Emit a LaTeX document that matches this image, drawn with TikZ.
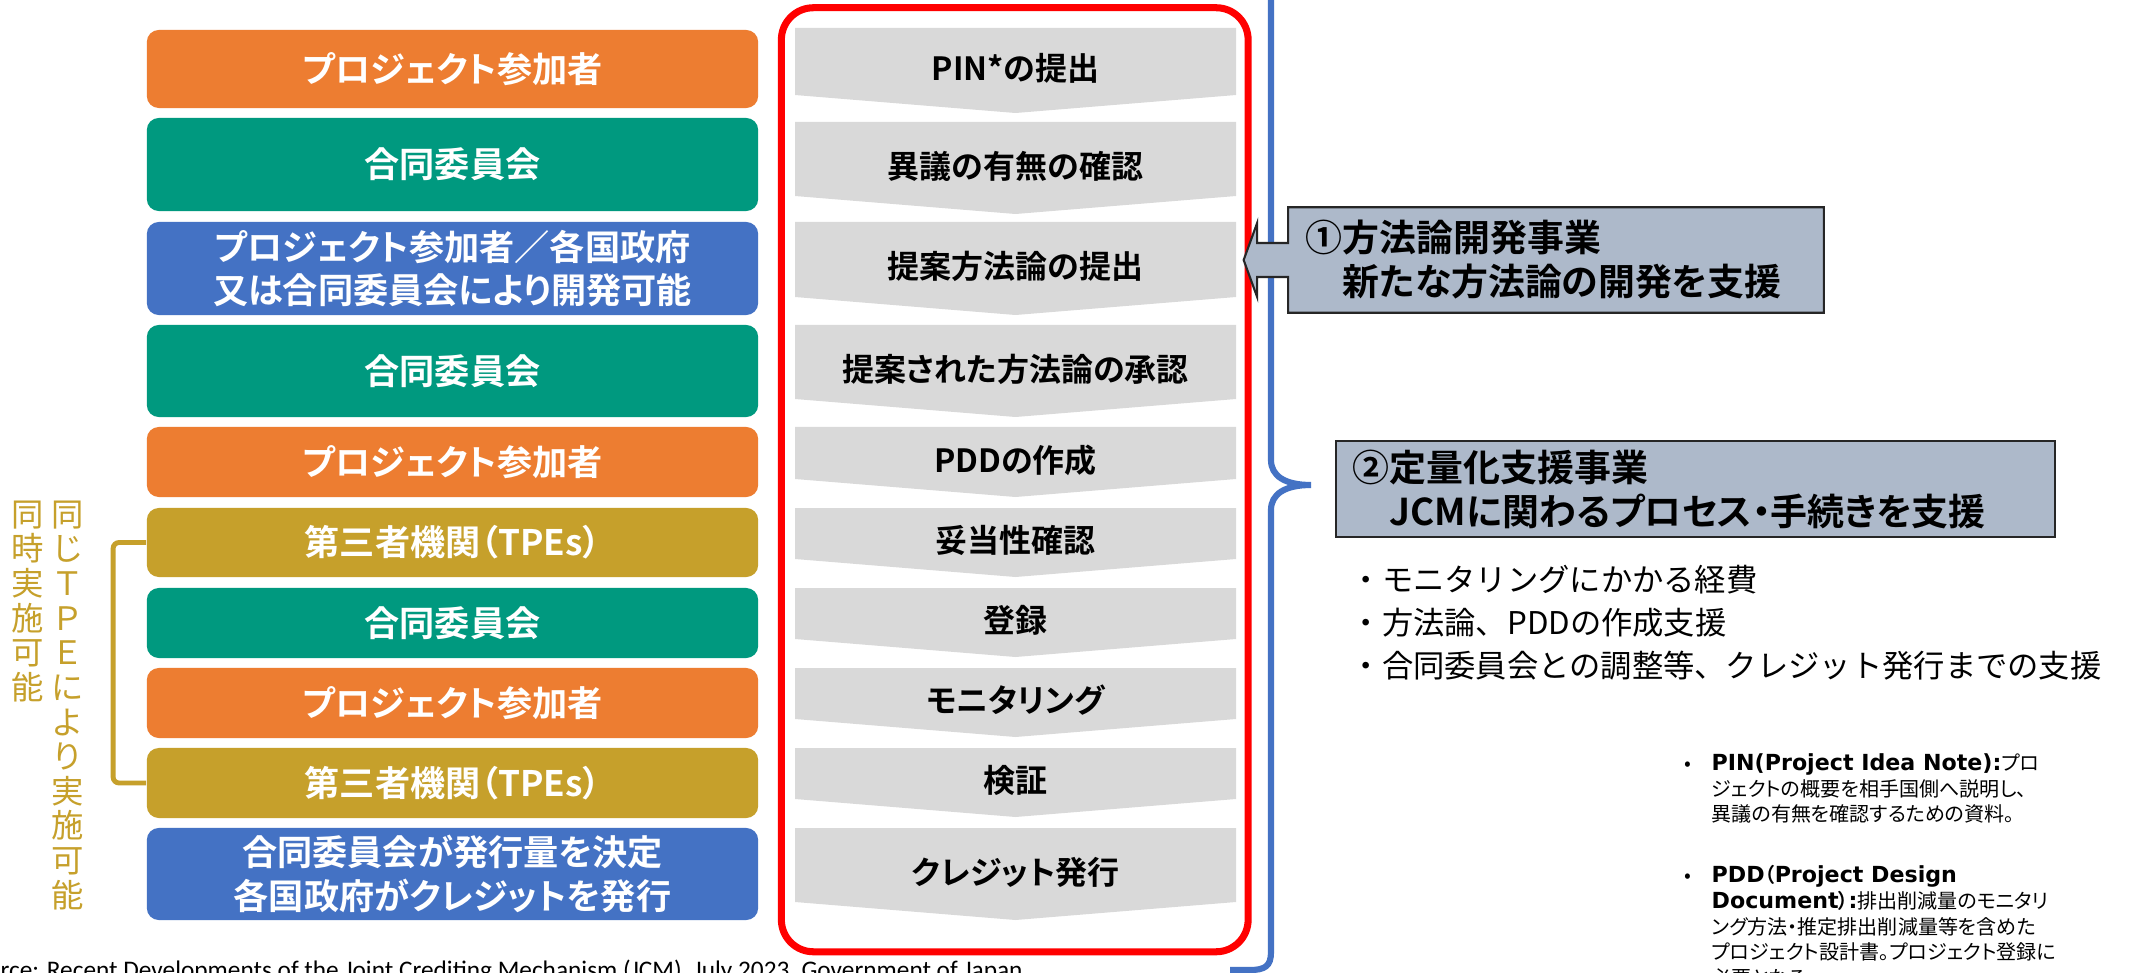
\documentclass[tikz,border=0pt]{standalone}
\usepackage{fontspec}
\usepackage{tikz}
\usetikzlibrary{positioning,calc}
\newfontfamily\jp{Noto Sans CJK JP}[BoldFont={Noto Sans CJK JP Bold},RawFeature=+palt]
\newfontfamily\jpf{Noto Sans CJK JP}
\newfontfamily\dvs{DejaVu Sans}
\newfontfamily\srcf{Carlito}
\newcommand{\lat}[1]{{\dvs\bfseries\fontsize{6.3pt}{7.3pt}\selectfont #1}}
\definecolor{pjorange}{HTML}{ED7D31}
\definecolor{jcteal}{HTML}{00997F}
\definecolor{govblue}{HTML}{4472C4}
\definecolor{tpegold}{HTML}{C6A02B}
\definecolor{stepgray}{HTML}{D9D9D9}
\definecolor{supfill}{HTML}{ADB9CA}
\definecolor{supline}{HTML}{262626}
\tikzset{
  actor/.style={rounded corners=0.12cm,minimum width=6.11cm,inner sep=0pt,text=white,align=center,
    font=\jp\bfseries\fontsize{10pt}{12.4pt}\selectfont},
  stepfill/.style={fill=stepgray},
  steptext/.style={inner sep=0pt,font=\jp\bfseries\fontsize{9.1pt}{11pt}\selectfont},
  redframe/.style={draw=red,line width=2pt,rounded corners=0.32cm},
  bluebrace/.style={draw=govblue,line width=1.75pt},
  tpebracket/.style={draw=tpegold,line width=1.4pt,rounded corners=0.06cm},
  callout/.style={fill=supfill,draw=supline,line width=0.6pt},
  suptext/.style={inner ysep=0pt,inner xsep=0.17cm,align=left,font=\jp\bfseries\fontsize{10.5pt}{12.5pt}\selectfont},
  vtext/.style={inner sep=0pt,align=center,text=tpegold,font=\jpf\fontsize{9.2pt}{9.85pt}\selectfont},
  note/.style={inner sep=0pt,align=left,font=\jp\fontsize{5.7pt}{7.3pt}\selectfont}
}
\begin{document}
\begin{tikzpicture}[x=0.01cm,y=-0.01cm]
\useasboundingbox (0,0) rectangle (2129,973);
\clip (0,0) rectangle (2129,973);
\fill[white] (0,0) rectangle (2129,973);
% who acts at each step
\node[actor,fill=pjorange,minimum height=0.78cm] (L1) at (452.5,69) {プロジェクト参加者};
\node[actor,fill=jcteal,minimum height=0.93cm] (L2) at (452.5,164.5) {合同委員会};
\node[actor,fill=govblue,minimum height=0.93cm] (L3) at (452.5,268.5) {プロジェクト参加者／各国政府\\又は合同委員会により開発可能};
\node[actor,fill=jcteal,minimum height=0.92cm] (L4) at (452.5,371) {合同委員会};
\node[actor,fill=pjorange,minimum height=0.70cm] (L5) at (452.5,462) {プロジェクト参加者};
\node[actor,fill=tpegold,minimum height=0.69cm] (L6) at (452.5,542.5) {第三者機関（TPEs）};
\node[actor,fill=jcteal,minimum height=0.70cm] (L7) at (452.5,623) {合同委員会};
\node[actor,fill=pjorange,minimum height=0.70cm] (L8) at (452.5,703) {プロジェクト参加者};
\node[actor,fill=tpegold,minimum height=0.70cm] (L9) at (452.5,783) {第三者機関（TPEs）};
\node[actor,fill=govblue,minimum height=0.92cm] (L10) at (452.5,874) {合同委員会が発行量を決定\\各国政府がクレジットを発行};
% same TPE note
\node[vtext,anchor=north] (V1) at (28,500) {同\\時\\実\\施\\可\\能};
\node[vtext,anchor=north] (V2) at (68,500) {同\\じ\\Ｔ\\Ｐ\\Ｅ\\に\\よ\\り\\実\\施\\可\\能};
\draw[tpebracket] (L6.west) -- ++(-33,0) |- (L9.west);
% steps
\fill[stepfill] (795,28) -- (1236,28) -- (1236,95) -- (1015.5,113) -- (795,95) -- cycle;
\node[steptext] (S1) at (1015.5,68.5) {PIN*の提出};
\fill[stepfill] (795,122) -- (1236,122) -- (1236,196) -- (1015.5,214) -- (795,196) -- cycle;
\node[steptext] (S2) at (1015.5,166) {異議の有無の確認};
\fill[stepfill] (795,222) -- (1236,222) -- (1236,297) -- (1015.5,315) -- (795,297) -- cycle;
\node[steptext] (S3) at (1015.5,266.5) {提案方法論の提出};
\fill[stepfill] (795,325) -- (1236,325) -- (1236,399) -- (1015.5,417) -- (795,399) -- cycle;
\node[steptext] (S4) at (1015.5,369) {提案された方法論の承認};
\fill[stepfill] (795,427) -- (1236,427) -- (1236,479) -- (1015.5,497) -- (795,479) -- cycle;
\node[steptext] (S5) at (1015.5,460) {PDDの作成};
\fill[stepfill] (795,508) -- (1236,508) -- (1236,559) -- (1015.5,577) -- (795,559) -- cycle;
\node[steptext] (S6) at (1015.5,540.5) {妥当性確認};
\fill[stepfill] (795,588) -- (1236,588) -- (1236,639) -- (1015.5,657) -- (795,639) -- cycle;
\node[steptext] (S7) at (1015.5,620.5) {登録};
\fill[stepfill] (795,668) -- (1236,668) -- (1236,719) -- (1015.5,737) -- (795,719) -- cycle;
\node[steptext] (S8) at (1015.5,700.5) {モニタリング};
\fill[stepfill] (795,748) -- (1236,748) -- (1236,799) -- (1015.5,817) -- (795,799) -- cycle;
\node[steptext] (S9) at (1015.5,780.5) {検証};
\fill[stepfill] (795,828) -- (1236,828) -- (1236,902) -- (1015.5,920) -- (795,902) -- cycle;
\node[steptext] (S10) at (1015.5,872) {クレジット発行};
\node[redframe,minimum width=4.665cm,minimum height=9.435cm] (R) at (1014.75,479.75) {};
% brace
\draw[bluebrace] (1271,-10) -- (1271,460) .. controls (1271,476) and (1285,485) .. (1311,485)
  .. controls (1285,485) and (1271,494) .. (1271,510) -- (1271,952)
  .. controls (1271,966) and (1265,970) .. (1250,970) -- (1230,970);
% support programmes
\node[inner sep=0pt,minimum width=5.34cm,minimum height=1.04cm] (M1) at (1556,260) {};
\filldraw[callout] (M1.north west) -- (M1.north east) -- (M1.south east) -- (M1.south west)
  -- ($(M1.west)+(0,17)$) -- ($(M1.west)+(-31,17)$) -- ($(M1.west)+(-31,37)$) -- ($(R.east |- M1.west)+(-8,0)$)
  -- ($(M1.west)+(-31,-37)$) -- ($(M1.west)+(-31,-17)$) -- ($(M1.west)+(0,-17)$) -- cycle;
\node[suptext,anchor=west] (M1t) at (M1.west) {①方法論開発事業\\\hspace*{1em}新たな方法論の開発を支援};
\node[suptext,callout,minimum width=7.19cm,minimum height=0.96cm,text width=6.85cm] (M2) at (1695.5,489) {②定量化支援事業\\\hspace*{1em}JCMに関わるプロセス・手続きを支援};
\node[anchor=west,inner sep=0pt,align=left,font=\jpf\fontsize{8.9pt}{12.2pt}\selectfont] (B) at (1350,623) {・モニタリングにかかる経費\\・方法論、PDDの作成支援\\・合同委員会との調整等、クレジット発行までの支援};
% notes
\node[note,anchor=north west] (N1) at (1711,753) {\llap{•\hspace{0.2cm}}\lat{PIN(Project Idea Note):}プロ\\ジェクトの概要を相手国側へ説明し、\\異議の有無を確認するための資料。};
\node[note,anchor=north west] (N2) at (1711,865) {\llap{•\hspace{0.2cm}}\lat{PDD}{\bfseries （}\lat{Project Design}\\\lat{Document}{\bfseries ）}\lat{:}排出削減量のモニタリ\\ング方法・推定排出削減量等を含めた\\プロジェクト設計書。プロジェクト登録に\\必要となる。};
\node[anchor=base west,inner sep=0pt,font=\srcf\fontsize{7.2pt}{8.6pt}\selectfont] (src) at (0,978) {\llap{Sou}rce: Recent Developments of the Joint Crediting Mechanism (JCM), July 2023, Government of Japan};
\end{tikzpicture}
\end{document}
